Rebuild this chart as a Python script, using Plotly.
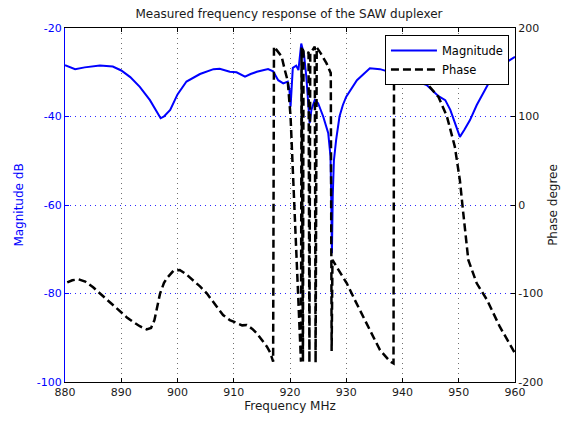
import plotly.graph_objects as go

# ---------------- data ----------------
mag_freq = [880.0, 881.8, 883.5, 886.2, 888.5, 890.0, 891.6, 893.3, 895.1, 896.3,
            897.0, 897.6, 898.7, 900.0, 901.6, 904.0, 906.4, 907.5, 909.3, 910.5,
            912.0, 913.0, 914.1, 916.1, 917.0, 917.9, 918.8, 919.6, 919.9, 920.1,
            920.5, 921.1, 921.5, 922.0, 922.5, 922.9, 923.2, 923.5, 923.8, 924.4,
            925.0, 925.9, 926.8, 927.2, 927.35, 927.45, 927.6, 927.8, 928.2, 928.8,
            929.4, 930.0, 931.9, 934.2, 936.0, 938.0, 940.0, 941.9, 944.3, 946.4,
            947.6, 948.5, 950.2, 951.0, 952.0, 953.2, 955.6, 957.3, 960.0]
mag_db = [-28.4, -29.3, -28.9, -28.5, -28.7, -29.6, -31.1, -33.3, -36.3, -38.8,
          -40.4, -40.0, -38.5, -35.0, -32.1, -30.4, -29.3, -29.2, -29.9, -30.0,
          -31.0, -30.4, -29.9, -29.3, -29.8, -31.8, -32.5, -32.1, -34.0, -37.8,
          -29.0, -28.5, -29.5, -23.5, -26.1, -31.0, -37.0, -41.5, -38.5, -36.3,
          -37.0, -40.0, -43.8, -49.0, -60.0, -70.9, -58.0, -50.0, -45.3, -40.0,
          -37.4, -35.5, -31.8, -29.1, -29.3, -30.0, -30.8, -31.8, -32.9, -35.4,
          -36.3, -38.5, -44.6, -43.0, -40.8, -37.4, -31.8, -28.7, -26.5]

phase_freq = [880.4, 881.3, 882.4, 883.6, 885.0, 886.2, 888.0, 889.8, 891.0, 892.1,
              893.3, 894.5, 895.3, 895.9, 896.5, 896.9, 897.6, 898.1, 899.3, 900.4,
              901.5, 902.8, 904.0, 905.2, 906.6, 908.1, 909.3, 910.5, 911.5, 912.3,
              913.3, 914.1, 915.0, 915.9, 916.5, 917.0, 917.15, 918.5, 919.1, 919.6,
              920.1, 920.4, 920.8, 921.2, 921.6, 921.95, 922.05, 922.3, 922.4, 923.3,
              923.45, 923.6, 924.4, 924.55, 924.75, 925.5, 926.5, 927.25, 927.4, 927.55,
              928.3, 930.1, 931.5, 933.0, 934.5, 936.0, 937.8, 938.4, 938.5, 940.0,
              942.0, 944.3, 946.4, 947.9, 949.3, 950.2, 950.8, 951.7, 953.2, 955.0,
              957.3, 960.0]
phase_deg = [-87.5, -85, -84, -86.5, -93, -100, -110, -120.6, -127, -132,
             -137, -140.5, -139, -130, -112, -100, -88, -82.8, -74.2, -73.5,
             -78, -84.8, -92, -99.8, -112, -124.3, -130, -133.7, -136, -135.6,
             -140, -145, -152, -160.1, -167, -177, 179, 168, 152, 140,
             100, 55, -10, -80, -140, -177, 178, -177, 175, 172,
             -178, 171, 179, -178, 178, 171, 160, 149, -165, -62,
             -70, -88.5, -107, -126, -145, -164, -177, -179, 178, 163,
             148, 137.5, 122, 100, 66, 28, -9, -62, -88.5, -107,
             -137.5, -167.6]

x_ticks = [880, 890, 900, 910, 920, 930, 940, 950, 960]
x_labels = ["880", "890", "900", "910", "920", "930", "940", "950", "960"]
y1_ticks = [-100, -80, -60, -40, -20]
y1_labels = ["-100", "-80", "-60", "-40", "-20"]
y2_ticks = [-200, -100, 0, 100, 200]
y2_labels = ["-200", "-100", "0", "100", "200"]

FONT = "DejaVu Sans, Verdana, sans-serif"
BLUE = "#0000ff"
TXT = "#1a1a1a"

fig = go.Figure()
fig.add_trace(go.Scatter(x=mag_freq, y=mag_db, mode="lines", name="Magnitude",
                         line=dict(color=BLUE, width=2), yaxis="y"))
fig.add_trace(go.Scatter(x=phase_freq, y=phase_deg, mode="lines", name="Phase",
                         line=dict(color="black", width=2.5, dash="8px,4px"),
                         yaxis="y2"))

# The page body has an 8px default margin, so the figure is sized to fit the
# 573x421 window and margins are compensated accordingly.
fig.update_layout(
    width=565, height=413,
    margin=dict(l=57, r=58, t=20, b=39, pad=0),
    paper_bgcolor="white", plot_bgcolor="white",
    font=dict(family=FONT, size=11, color=TXT),
    title=dict(text="Measured frequency response of the SAW duplexer",
               x=0.4973, xanchor="center", y=0.985, yanchor="middle",
               font=dict(size=12, color=TXT)),
    xaxis=dict(range=[880, 960], tickvals=x_ticks, ticktext=x_labels,
               ticks="inside", ticklen=4, tickcolor="black",
               showline=True, linecolor="black", linewidth=1, mirror="ticks",
               showgrid=True, gridcolor="#707070", griddash="1px,4px", gridwidth=1.2,
               zeroline=False, automargin=False,
               tickfont=dict(size=11, color=TXT),
               title=dict(text="Frequency MHz", font=dict(size=12, color=TXT),
                          standoff=2)),
    yaxis=dict(range=[-100, -20], tickvals=y1_ticks, ticktext=y1_labels,
               ticks="inside", ticklen=4, tickcolor=BLUE,
               showline=True, linecolor=BLUE, linewidth=1,
               showgrid=True, gridcolor="#2a2aff", griddash="1px,4px", gridwidth=1.2,
               zeroline=False, automargin=False,
               tickfont=dict(size=11, color=BLUE),
               title=dict(text="Magnitude dB", font=dict(size=12, color=BLUE),
                          standoff=10)),
    yaxis2=dict(range=[-200, 200], tickvals=y2_ticks, ticktext=y2_labels,
                overlaying="y", side="right",
                ticks="inside", ticklen=4, tickcolor="black",
                showline=True, linecolor="black", linewidth=1,
                showgrid=False, zeroline=False, automargin=False,
                tickfont=dict(size=11, color=TXT),
                title=dict(text="Phase degree", font=dict(size=12, color=TXT),
                           standoff=6)),
    legend=dict(x=0.711, y=0.98, xanchor="left", yanchor="top",
                bgcolor="white", bordercolor="black", borderwidth=1,
                font=dict(size=11.5, color="black"), tracegroupgap=0,
                itemwidth=46),
    showlegend=True,
)

fig.write_html("out.html")
